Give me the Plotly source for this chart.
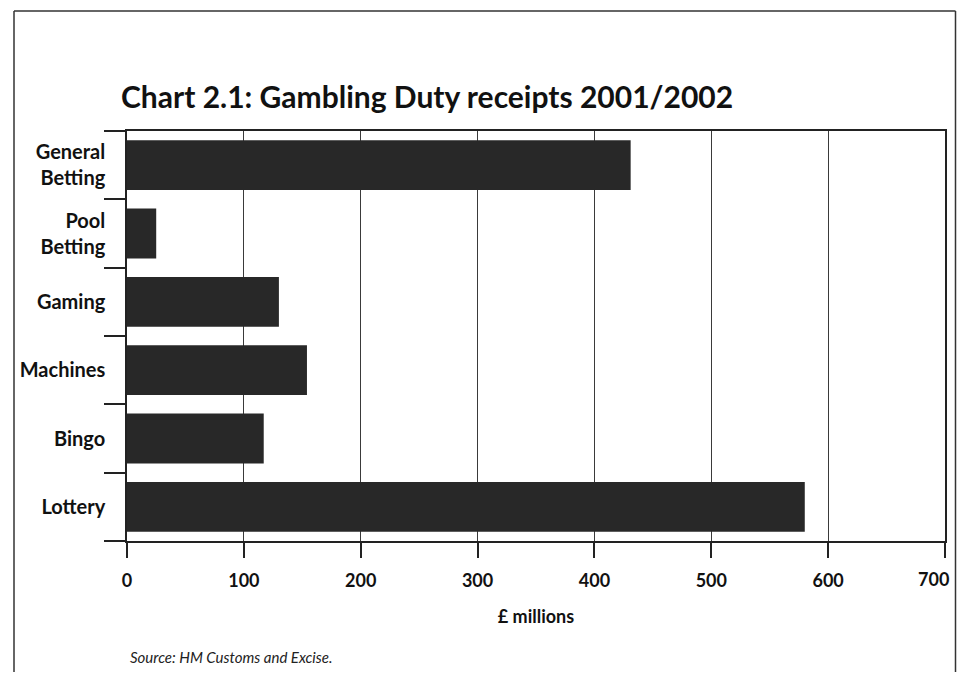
import plotly.graph_objects as go

categories = ["General<br>Betting", "Pool<br>Betting", "Gaming", "Machines", "Bingo", "Lottery"]
values = [431, 25, 130, 154, 117, 580]
x_ticks = [0, 100, 200, 300, 400, 500, 600, 700]

FONT = "Lato"
OFF = 8  # browser body margin
W, H = 949, 664
# target page coordinates
PL, PR, PT, PB = 127, 945, 131, 541
L, T = PL - OFF, PT - OFF
R = W - (PR - OFF)
B = H - (PB - OFF)
pw, ph = W - L - R, H - T - B

def px(xp):
    return (xp - OFF - L) / pw

def py(yp):
    return (H - B - (yp - OFF)) / ph

fig = go.Figure(go.Bar(
    y=categories, x=values, orientation="h",
    marker=dict(color="#282828", line=dict(width=0)),
    width=0.73,
))

# last tick label would overflow the page edge; it is drawn as an annotation instead
tick_text = [f"<b>{v}</b>" for v in x_ticks[:-1]] + [""]

fig.update_layout(
    width=W, height=H, autosize=False,
    margin=dict(l=L, r=R, t=T, b=B, autoexpand=False),
    paper_bgcolor="white", plot_bgcolor="white",
    showlegend=False,
    font=dict(family=FONT, color="#111111"),
    title=dict(text="<b>Chart 2.1: Gambling Duty receipts 2001/2002</b>",
               x=(121 - OFF) / W, xanchor="left", y=1 - (97 - OFF) / H, yanchor="middle",
               font=dict(size=30, family=FONT, color="#111111"), automargin=False),
    xaxis=dict(range=[0, 700], tickvals=x_ticks, ticktext=tick_text,
               showgrid=True, gridcolor="#3a3a3a", gridwidth=1,
               showline=True, linecolor="#222222", linewidth=1.5, mirror=True,
               ticks="outside", ticklen=15, tickcolor="#222222", tickwidth=1.5,
               ticklabelstandoff=8, automargin=False,
               tickfont=dict(size=18, family=FONT, color="#111111"),
               title=dict(text="<b>£ millions</b>", font=dict(size=18, family=FONT, color="#111111"),
                          standoff=20),
               zeroline=False, fixedrange=True),
    yaxis=dict(autorange="reversed", type="category", automargin=False,
               tickvals=categories, ticktext=[f"<b>{c}</b>" for c in categories],
               showline=True, linecolor="#222222", linewidth=1.5, mirror=True,
               ticks="outside", tickson="boundaries", ticklen=21, tickcolor="#222222", tickwidth=1.5,
               ticklabelstandoff=16,
               tickfont=dict(size=20, family=FONT, color="#111111"),
               showgrid=False, fixedrange=True),
)

fig.add_annotation(text=f"<b>{x_ticks[-1]}</b>", xref="x", yref="paper",
                   x=x_ticks[-1], y=py(579), xanchor="right", yanchor="middle", xshift=6,
                   showarrow=False, font=dict(size=18, family=FONT, color="#111111"))

# outer frame (left, top, right edges)
frame = dict(color="#333333", width=1.5)
fig.add_shape(type="line", xref="paper", yref="paper", x0=px(14), x1=px(14), y0=py(680), y1=py(11), line=frame)
fig.add_shape(type="line", xref="paper", yref="paper", x0=px(14), x1=px(955.5), y0=py(11), y1=py(11), line=frame)
fig.add_shape(type="line", xref="paper", yref="paper", x0=px(955.5), x1=px(955.5), y0=py(11), y1=py(680), line=frame)

fig.add_annotation(text="<i>Source: HM Customs and Excise.</i>", xref="paper", yref="paper",
                   x=px(128), y=py(657), xanchor="left", yanchor="middle",
                   showarrow=False, font=dict(size=15, family=FONT, color="#222222"))

fig.write_html("out.html")
